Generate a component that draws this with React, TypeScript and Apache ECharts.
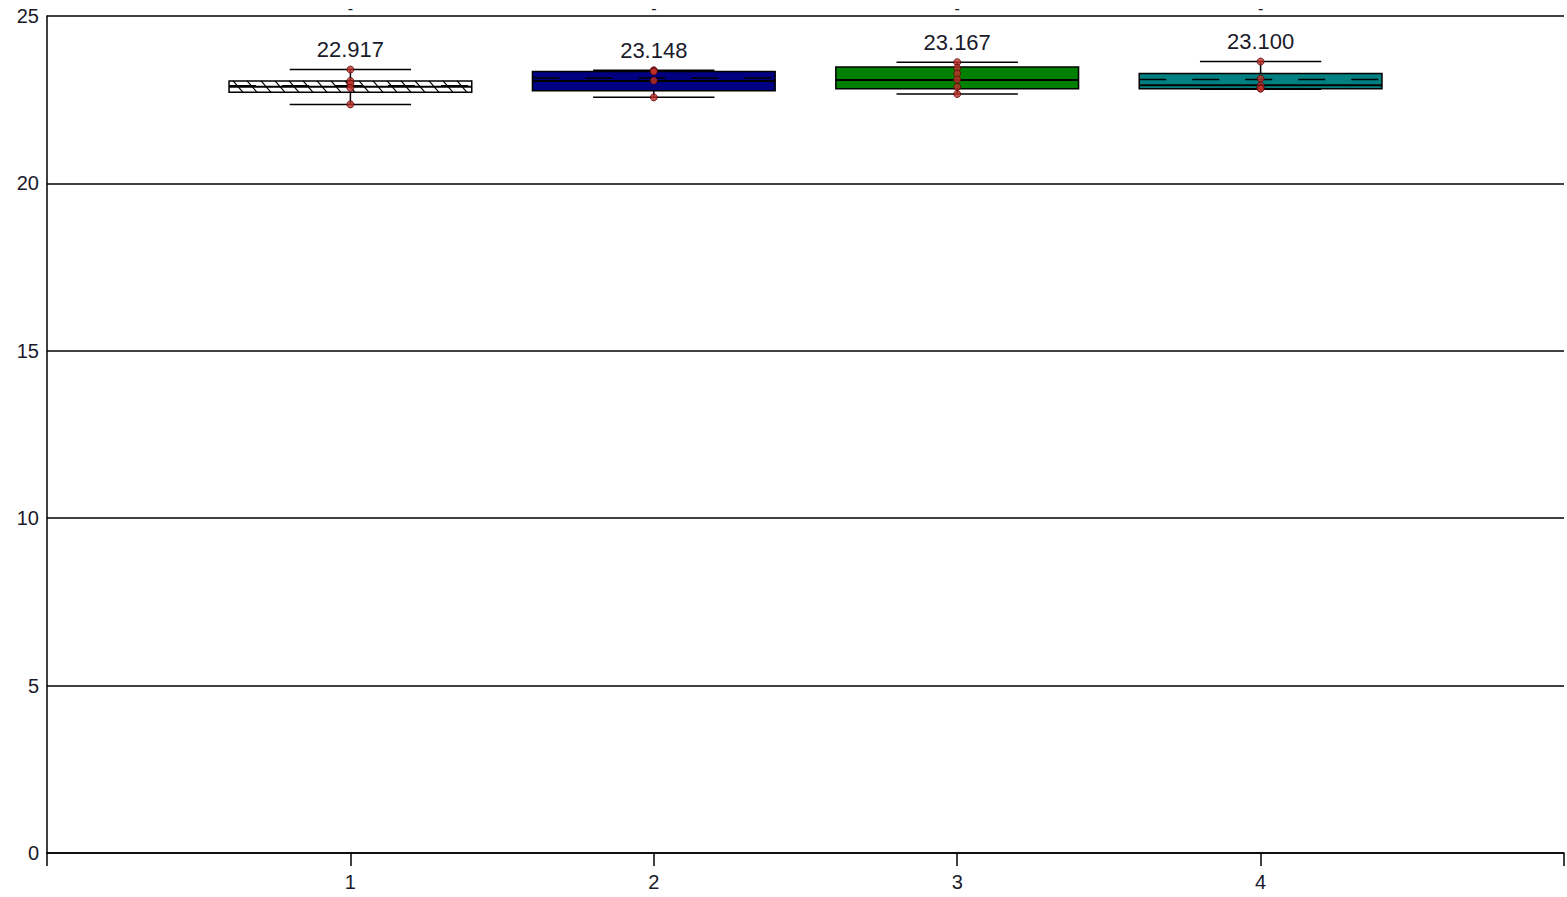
import React, { useEffect, useRef } from "react";
import * as echarts from "echarts";

const categories = [1, 2, 3, 4];
const whiskerLow = [22.36, 22.57, 22.67, 22.81];
const q1 = [22.72, 22.77, 22.83, 22.83];
const medians = [22.89, 23.06, 23.09, 22.93];
const q3 = [23.06, 23.34, 23.48, 23.28];
const whiskerHigh = [23.4, 23.38, 23.62, 23.64];
const means = [22.917, 23.148, 23.167, 23.1];
const meanLabels = ["22.917", "23.148", "23.167", "23.100"];
const showMeanLine = [true, true, false, true];
const boxColors = ["#ffffff", "#000080", "#008000", "#008080"];
const hatched = [true, false, false, false];
const points = [
  [23.4, 23.06, 22.98, 22.85, 22.36],
  [23.38, 23.36, 23.34, 23.07, 22.57],
  [23.62, 23.45, 23.28, 23.1, 22.88, 22.67],
  [23.64, 23.13, 22.92, 22.84, 22.83],
];
const yTicks = [0, 5, 10, 15, 20, 25];

const FONT = 'Arial, "Liberation Sans", sans-serif';

export default function App() {
  const ref = useRef<HTMLDivElement>(null);
  useEffect(() => {
    if (!ref.current) return;
    const chart = echarts.init(ref.current, undefined, { renderer: "svg" });
    const boxData = categories.map((c, i) => [
      c,
      whiskerLow[i],
      q1[i],
      medians[i],
      q3[i],
      whiskerHigh[i],
      means[i],
      i,
    ]);
    const scatterData: number[][] = [];
    points.forEach((arr, i) => arr.forEach((v) => scatterData.push([categories[i], v])));

    const renderItem = (params: any, api: any) => {
      const x = api.value(0);
      const idx = api.value(7);
      const yMax = yTicks[yTicks.length - 1];
      const [cx, yLow] = api.coord([x, api.value(1)]);
      const yQ1 = api.coord([x, api.value(2)])[1];
      const yMed = api.coord([x, api.value(3)])[1];
      const yQ3 = api.coord([x, api.value(4)])[1];
      const yHigh = api.coord([x, api.value(5)])[1];
      const yMean = api.coord([x, api.value(6)])[1];
      const yTop = api.coord([x, yMax])[1];
      const boxHalf = api.size([0.4, 0])[0];
      const capHalf = api.size([0.2, 0])[0];
      const lineStyle = { stroke: "#000", lineWidth: 1.5 };
      const children: any[] = [];
      const left = cx - boxHalf;
      const right = cx + boxHalf;
      children.push({
        type: "line",
        shape: { x1: cx, y1: yHigh, x2: cx, y2: yQ3 },
        style: lineStyle,
      });
      children.push({
        type: "line",
        shape: { x1: cx, y1: yQ1, x2: cx, y2: yLow },
        style: lineStyle,
      });
      children.push({
        type: "line",
        shape: { x1: cx - capHalf, y1: yHigh, x2: cx + capHalf, y2: yHigh },
        style: lineStyle,
      });
      children.push({
        type: "line",
        shape: { x1: cx - capHalf, y1: yLow, x2: cx + capHalf, y2: yLow },
        style: lineStyle,
      });
      children.push({
        type: "rect",
        shape: { x: left, y: yQ3, width: right - left, height: yQ1 - yQ3 },
        style: { fill: boxColors[idx], stroke: "#000", lineWidth: 1.5 },
      });
      if (hatched[idx]) {
        const h = yQ1 - yQ3;
        const dx = 10;
        const spacing = 14;
        for (let sx = left - dx; sx < right; sx += spacing) {
          let x1 = sx, y1 = yQ3, x2 = sx + dx, y2 = yQ1;
          if (x1 < left) {
            const t = (left - x1) / dx;
            x1 = left;
            y1 = yQ3 + t * h;
          }
          if (x2 > right) {
            const t = (x2 - right) / dx;
            x2 = right;
            y2 = yQ1 - t * h;
          }
          if (x2 <= x1) continue;
          children.push({
            type: "line",
            shape: { x1, y1, x2, y2 },
            style: { stroke: "#000", lineWidth: 1.2 },
          });
        }
      }
      children.push({
        type: "line",
        shape: { x1: left, y1: yMed, x2: right, y2: yMed },
        style: { stroke: "#000", lineWidth: 2 },
      });
      if (showMeanLine[idx]) {
        children.push({
          type: "line",
          shape: { x1: left, y1: yMean, x2: right, y2: yMean },
          style: { stroke: "#000", lineWidth: 1.5, lineDash: [27, 26] },
        });
      }
      children.push({
        type: "text",
        style: {
          x: cx,
          y: yHigh - 20,
          text: meanLabels[idx],
          fill: "#1a1a2a",
          font: `22px ${FONT}`,
          align: "center",
          verticalAlign: "middle",
        },
      });
      children.push({
        type: "text",
        style: {
          x: cx,
          y: yTop - 16,
          text: "-",
          fill: "#1a1a2a",
          font: `16px ${FONT}`,
          align: "center",
          verticalAlign: "top",
        },
      });
      return { type: "group", children };
    };

    chart.setOption({
      animation: false,
      backgroundColor: "#ffffff",
      grid: { left: 47, right: -2, top: 16, bottom: 44, containLabel: false },
      xAxis: {
        type: "value",
        min: 0,
        max: 5,
        interval: 1,
        axisLine: { show: true, lineStyle: { color: "#000", width: 1.5 } },
        axisTick: { show: true, length: 13, lineStyle: { color: "#000", width: 1.5 } },
        axisLabel: {
          color: "#1a1a2a",
          fontSize: 20,
          fontFamily: FONT,
          margin: 19,
          formatter: (v: number) => (v === 0 || v === 5 ? "" : String(v)),
        },
        splitLine: { show: false },
      },
      yAxis: {
        type: "value",
        min: 0,
        max: 25,
        interval: 5,
        axisLine: { show: true, lineStyle: { color: "#000", width: 1.5 } },
        axisTick: { show: false },
        axisLabel: { color: "#1a1a2a", fontSize: 20, fontFamily: FONT, margin: 8 },
        splitLine: { show: true, lineStyle: { color: "#000", width: 1.5 } },
      },
      series: [
        {
          type: "custom",
          renderItem,
          data: boxData,
          clip: false,
          z: 2,
          encode: { x: 0, y: [1, 5] },
        },
        {
          type: "scatter",
          data: scatterData,
          symbol: "circle",
          symbolSize: 7,
          z: 5,
          itemStyle: { color: "#c0302a", borderColor: "#5a0a0a", borderWidth: 1 },
        },
      ],
    });
    return () => chart.dispose();
  }, []);
  return (
    <div
      ref={ref}
      style={{ position: "absolute", left: 0, top: 0, width: 1567, height: 897 }}
    />
  );
}
